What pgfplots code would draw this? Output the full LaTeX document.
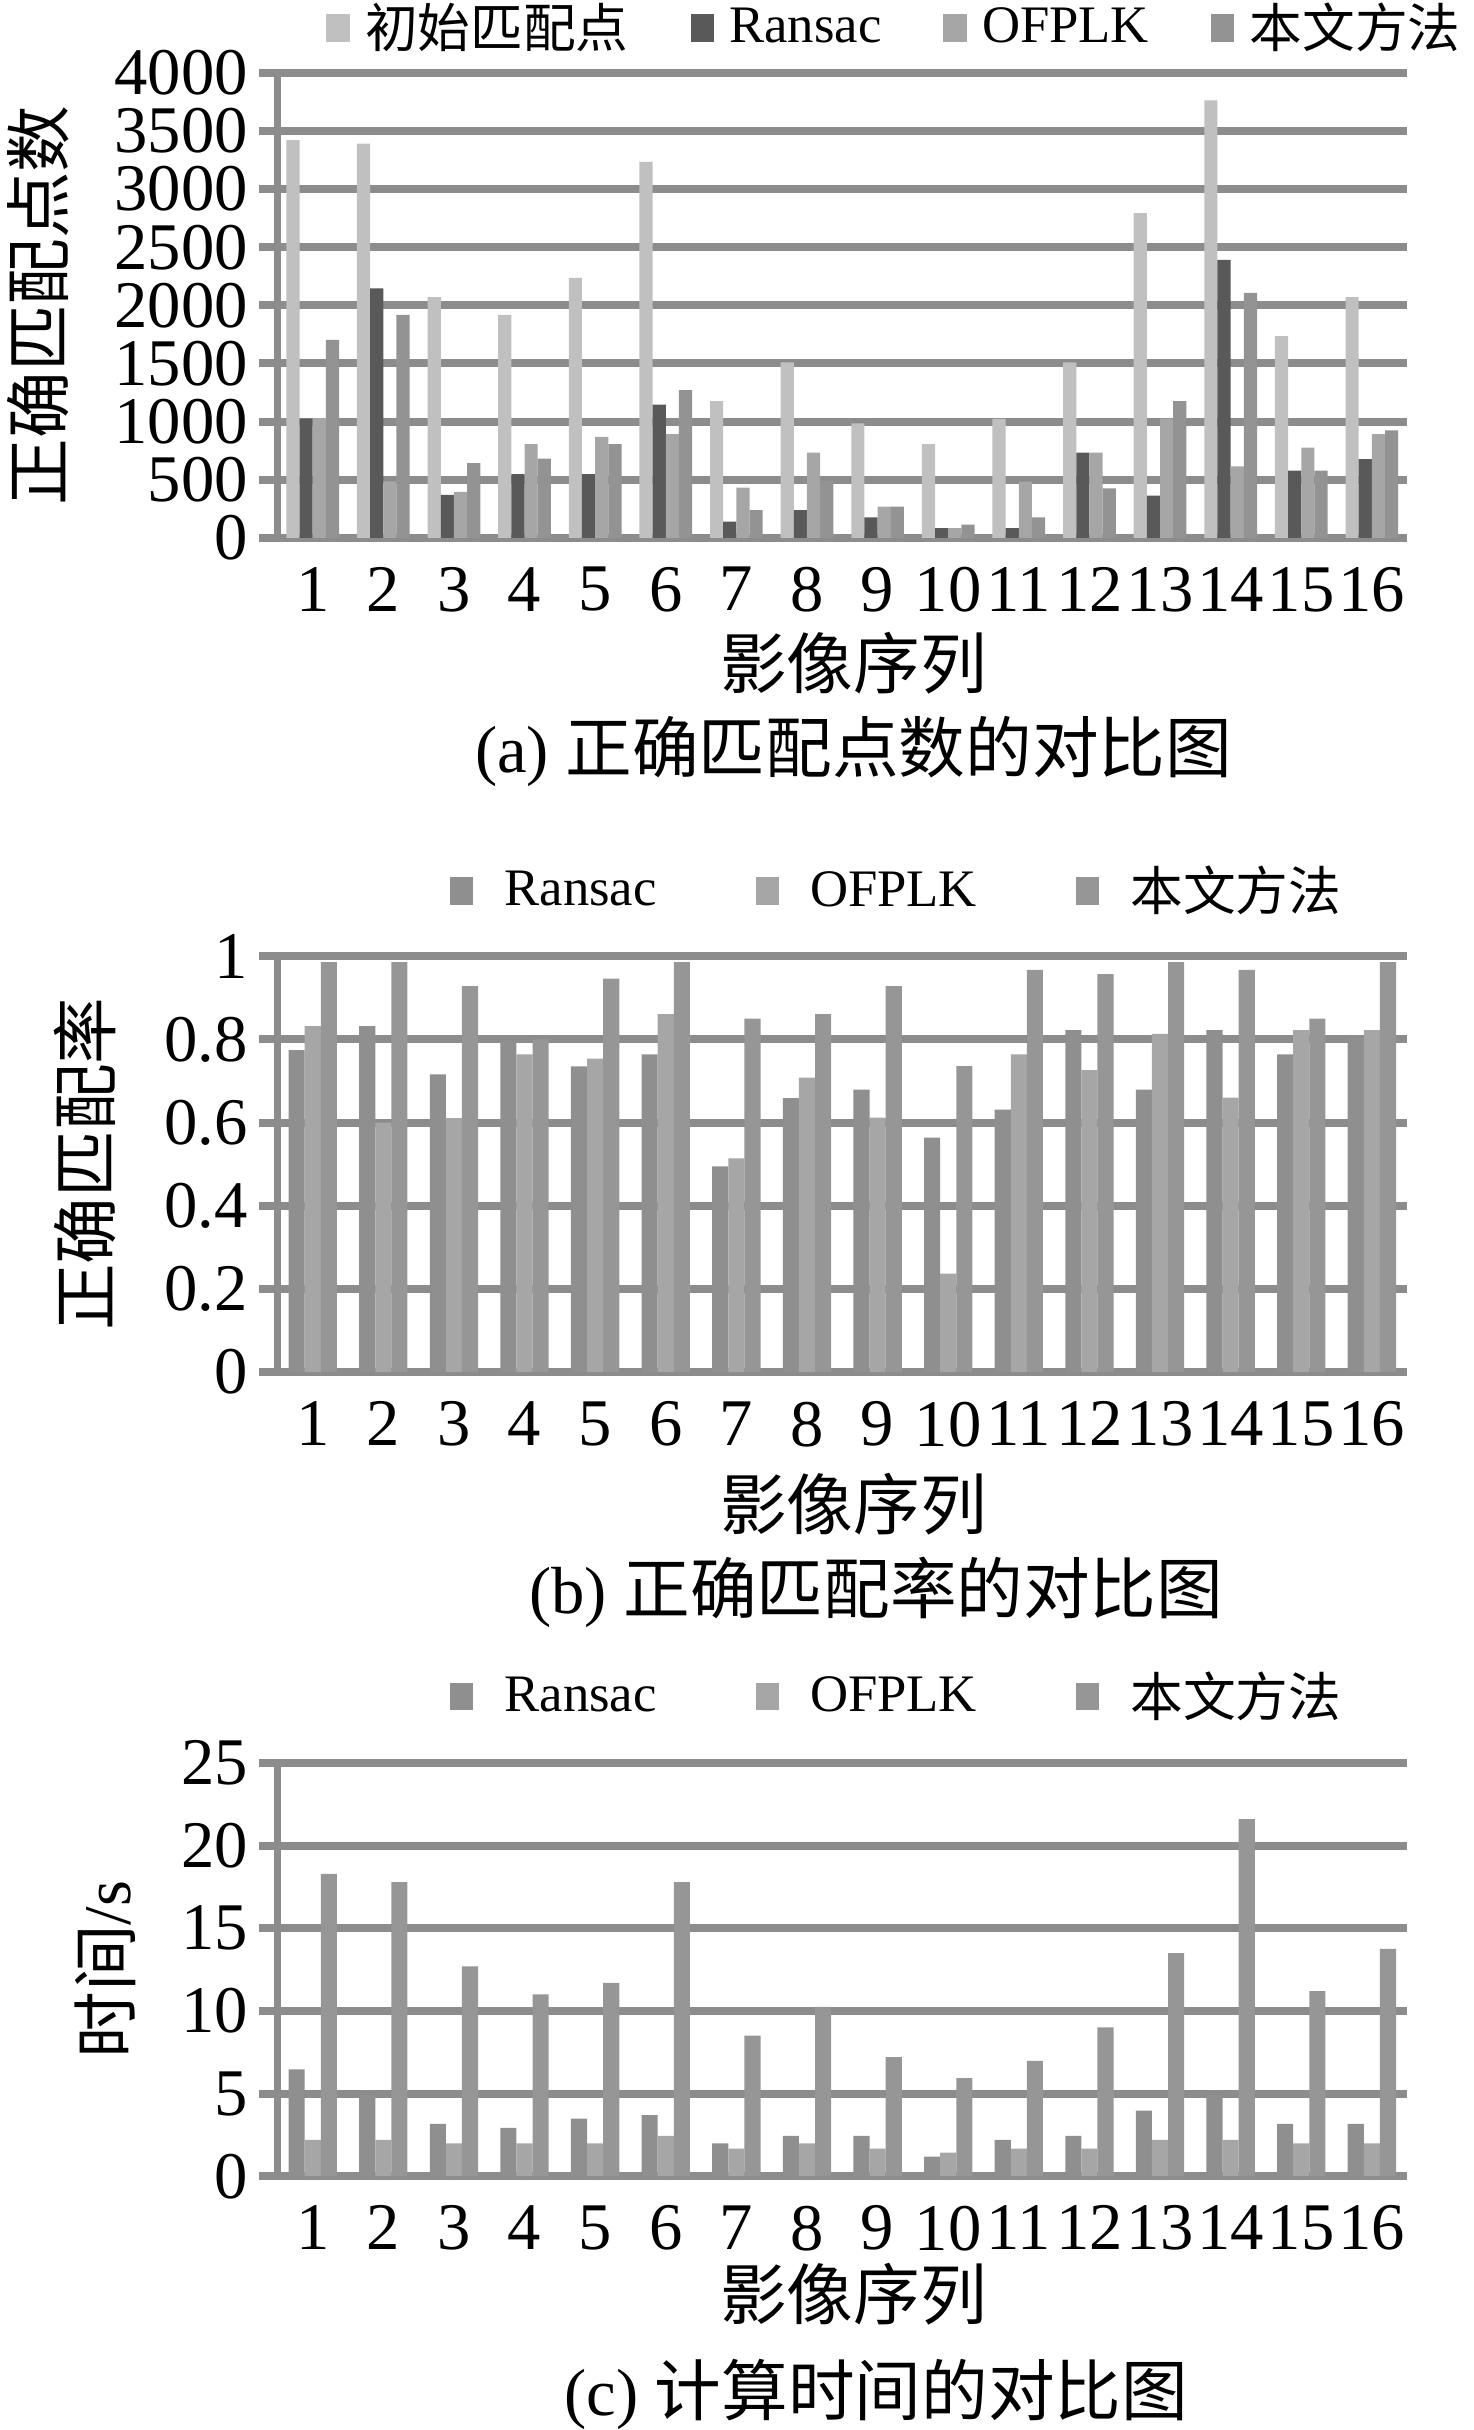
\documentclass[border=0pt]{standalone}
\usepackage{fontspec}
\setmainfont{Liberation Serif}
\newfontfamily\cjk{Noto Sans CJK SC}
\usepackage{pgfplots}
\usepackage{pgfplotstable}
\pgfplotsset{compat=1.18}

\definecolor{gridgray}{HTML}{8C8C8C}
\definecolor{cInit}{HTML}{C0C0C0}
\definecolor{cRanA}{HTML}{595959}
\definecolor{cOfp}{HTML}{A6A6A6}
\definecolor{cOurA}{HTML}{939393}
\definecolor{cRanB}{HTML}{8F8F8F}
\definecolor{cOurB}{HTML}{969696}

\newcommand{\TickFont}{\fontsize{21.5}{24}\selectfont}
\newcommand{\LegFont}{\fontsize{17}{20}\selectfont}

% (a) correct matches
\pgfplotstableread{
x init ransac ofplk ours
1  3422 1025 1030 1702
2  3391 2145 486  1917
3  2071 369  394  643
4  1917 548  806  680
5  2237 548  868  806
6  3234 1145 892  1271
7  1175 138  431  237
8  1508 237  732  492
9  985  175  268  268
10 806  83   83   114
11 1022 83   483  175
12 1508 732  732  425
13 2794 363  1025 1175
14 3763 2391 615  2108
15 1735 578  775  578
16 2071 677  892  923
}\tabA

% (b) correct match rate
\pgfplotstableread{
x ransac ofplk ours
1  0.774 0.832 0.986
2  0.832 0.600 0.986
3  0.716 0.611 0.928
4  0.797 0.764 0.800
5  0.735 0.754 0.946
6  0.764 0.861 0.986
7  0.495 0.514 0.850
8  0.659 0.708 0.861
9  0.679 0.612 0.928
10 0.564 0.237 0.736
11 0.631 0.764 0.967
12 0.822 0.726 0.957
13 0.679 0.813 0.986
14 0.822 0.660 0.967
15 0.764 0.822 0.850
16 0.803 0.822 0.986
}\tabB

% (c) run time in s
\pgfplotstableread{
x ransac ofplk ours
1  6.46 2.19 18.3
2  4.90 2.20 17.8
3  3.17 1.98 12.7
4  2.92 1.98 11.0
5  3.48 1.98 11.7
6  3.70 2.44 17.8
7  1.98 1.67 8.5
8  2.44 1.98 10.25
9  2.44 1.67 7.2
10 1.19 1.42 5.94
11 2.19 1.67 6.98
12 2.44 1.67 9.0
13 3.96 2.19 13.5
14 4.90 2.19 21.6
15 3.17 1.98 11.2
16 3.17 1.98 13.75
}\tabC

\pgfplotsset{
  base/.style={
    scale only axis,
    clip mode=individual,
    width=364.5pt,
    xmin=0.5, xmax=16.5,
    xtick={1,...,16},
    xtick style={draw=none},
    ymin=0,
    ymajorgrids,
    grid style={line width=2.6pt, gridgray},
    axis x line*=bottom,
    axis y line*=left,
    axis line style={line width=2pt, gridgray, -},
    ytick style={line width=2.6pt, gridgray},
    tick align=outside,
    major tick length=6pt,
    tick label style={font=\TickFont},
    yticklabel style={inner ysep=0pt},
    /pgf/number format/assume math mode=true,
    ylabel style={font=\TickFont, anchor=center},
    xlabel style={font=\TickFont, anchor=center},
    ybar=0pt,
    legend columns=-1,
    legend style={draw=none, fill=none, font=\LegFont, anchor=center,
      /tikz/every odd column/.append style={column sep=3pt},
      /tikz/every even column/.append style={column sep=18pt}},
    legend image code/.code={\fill[##1] (0pt,-4.5pt) rectangle (7.5pt,4.5pt);},
  },
}

\begin{document}
\begin{tikzpicture}
\useasboundingbox (0pt,0pt) rectangle (475.5pt,-784pt);

% ---------- (a)
\begin{axis}[base,
  at={(89.5pt,-173.5pt)}, anchor=south west,
  height=150pt,
  ymax=4000, ytick={0,500,...,4000},
  yticklabels={0,500,1000,1500,2000,2500,3000,3500,4000},
  bar width=4.25pt,
  ylabel={\cjk 正确匹配点数},
  ylabel style={at={(axis description cs:-0.212,0.5)}},
  xlabel={\cjk 影像序列},
  xlabel style={at={(axis description cs:0.51,-0.27)}},
  legend style={at={(axis description cs:0.548,1.097)}},
]
\addplot[fill=cInit, draw=none] table[x=x, y=init] {\tabA};
\addplot[fill=cRanA, draw=none] table[x=x, y=ransac] {\tabA};
\addplot[fill=cOfp,  draw=none] table[x=x, y=ofplk] {\tabA};
\addplot[fill=cOurA, draw=none] table[x=x, y=ours] {\tabA};
\legend{{\cjk 初始匹配点},Ransac,OFPLK,{\cjk 本文方法}}
\node[font=\TickFont] at (axis description cs:0.51,-0.46) {(a) {\cjk 正确匹配点数的对比图}};
\end{axis}

% ---------- (b)
\begin{axis}[base,
  at={(89.5pt,-442.7pt)}, anchor=south west,
  height=134.2pt,
  ymax=1, ytick={0,0.2,...,1},
  yticklabels={0,0.2,0.4,0.6,0.8,1},
  bar width=5.2pt,
  ylabel={\cjk 正确匹配率},
  ylabel style={at={(axis description cs:-0.170,0.5)}},
  xlabel={\cjk 影像序列},
  xlabel style={at={(axis description cs:0.51,-0.317)}},
  legend style={at={(axis description cs:0.55,1.157)},
    /tikz/every odd column/.append style={column sep=8pt},
    /tikz/every even column/.append style={column sep=30pt}},
]
\addplot[fill=cRanB, draw=none] table[x=x, y=ransac] {\tabB};
\addplot[fill=cOfp,  draw=none] table[x=x, y=ofplk] {\tabB};
\addplot[fill=cOurB, draw=none] table[x=x, y=ours] {\tabB};
\legend{Ransac,OFPLK,{\cjk 本文方法}}
\node[font=\TickFont] at (axis description cs:0.53,-0.529) {(b) {\cjk 正确匹配率的对比图}};
\end{axis}

% ---------- (c)
\begin{axis}[base,
  at={(89.5pt,-702.1pt)}, anchor=south west,
  height=133.3pt,
  ymax=25, ytick={0,5,...,25},
  yticklabels={0,5,10,15,20,25},
  bar width=5.2pt,
  ylabel={{\cjk 时间}/s},
  ylabel style={at={(axis description cs:-0.152,0.5)}},
  xlabel={\cjk 影像序列},
  xlabel style={at={(axis description cs:0.51,-0.285)}},
  legend style={at={(axis description cs:0.55,1.161)},
    /tikz/every odd column/.append style={column sep=8pt},
    /tikz/every even column/.append style={column sep=30pt}},
]
\addplot[fill=cRanB, draw=none] table[x=x, y=ransac] {\tabC};
\addplot[fill=cOfp,  draw=none] table[x=x, y=ofplk] {\tabC};
\addplot[fill=cOurB, draw=none] table[x=x, y=ours] {\tabC};
\legend{Ransac,OFPLK,{\cjk 本文方法}}
\node[font=\TickFont] at (axis description cs:0.53,-0.529) {(c) {\cjk 计算时间的对比图}};
\end{axis}
\end{tikzpicture}
\end{document}
